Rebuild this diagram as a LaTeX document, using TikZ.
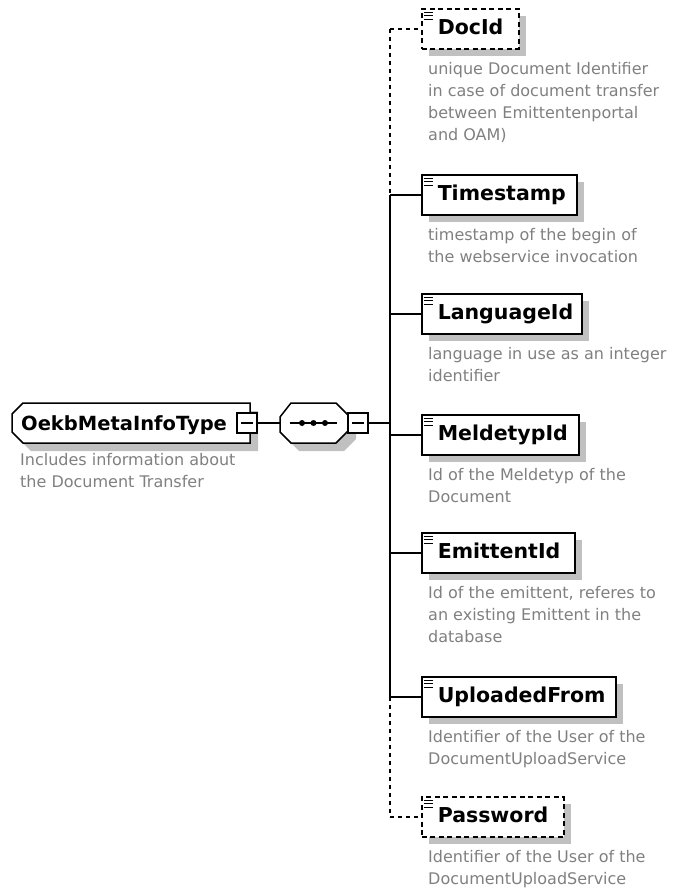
\documentclass[tikz,border=0pt]{standalone}
\usepackage{fontspec}
\setmainfont{DejaVu Sans}
\usetikzlibrary{shadows}
\definecolor{shadowc}{RGB}{192,192,192}
\definecolor{descc}{RGB}{128,128,128}
\newcommand\elemicon[1]{%
  \foreach \dy in {4,7.5,11} \draw[line width=1pt,solid] ([shift={(3,\dy)}]#1.north west) -- ++(9,0);}
\begin{document}
\begin{tikzpicture}[x=1pt,y=-1pt,
  elembox/.style={draw=black, fill=white, line width=1.5pt, inner sep=0pt,
    minimum height=40pt, anchor=west, text height=15pt, text depth=4.5pt,
    font=\fontsize{20.5}{22}\selectfont\bfseries,
    drop shadow={shadow xshift=7pt, shadow yshift=-7pt, fill=shadowc, opacity=1}},
  optbox/.style={elembox, dash pattern=on 5pt off 3.5pt},
  desc/.style={anchor=north west, align=left, inner sep=0pt, text=descc,
    font=\fontsize{16}{22}\selectfont, execute at begin node=\strut},
  conn/.style={draw=black, line width=1.6pt},
  optconn/.style={conn, dash pattern=on 4pt off 4pt},
  colbox/.style={draw=black, fill=white, line width=1.5pt, minimum size=20pt, inner sep=0pt,
    path picture={\draw[line width=1.3pt] ([xshift=4pt]path picture bounding box.west) -- ([xshift=-4pt]path picture bounding box.east);}},
]
\useasboundingbox (0,0) rectangle (673,896);

% ---- root element box ----
\fill[shadowc] (20,422) -- (31,411) -- (258,411) -- (258,451) -- (31,451) -- (20,440) -- cycle;
\draw[line width=1.5pt, fill=white] (12,414) -- (23,403) -- (250,403) -- (250,443) -- (23,443) -- (12,432) -- cycle;
\node[anchor=base west, inner sep=0pt, font=\fontsize{19.5}{22}\selectfont\bfseries] (oekb) at (21,430) {OekbMetaInfoType};
\node[colbox] (col1) at (247,423) {};
\node[desc] (droot) at (20,453) {Includes information about\\the Document Transfer};

% ---- sequence compositor ----
\fill[shadowc] (288,425) -- (299,411) -- (344,411) -- (356,423) -- (356,439) -- (344,451) -- (299,451) -- (288,440) -- cycle;
\draw[line width=1.5pt, fill=white] (280,417) -- (291,403) -- (336,403) -- (348,415) -- (348,431) -- (336,443) -- (291,443) -- (280,432) -- cycle;
\coordinate (seqw) at (280,423);
\coordinate (seqa) at (290,423);
\coordinate (seqb) at (337,423);
\draw[line width=1.5pt] (seqa) -- (seqb);
\foreach \xx in {302,313.5,325} \fill (\xx,423) circle (3pt);
\node[colbox] (col2) at (358,423) {};

% ---- spine coordinates ----
\coordinate (s0) at (390,423);
\coordinate (s1) at (390,29);
\coordinate (s2) at (390,195);
\coordinate (s3) at (390,314);
\coordinate (s4) at (390,435);
\coordinate (s5) at (390,553);
\coordinate (s6) at (390,697);
\coordinate (s7) at (390,817);

% ---- child elements ----
\node[optbox] (docid) at (421,29) {\makebox[97pt][l]{\hspace{16pt}DocId}};
\elemicon{docid}
\node[desc] (ddoc) at (428,62) {unique Document Identifier\\in case of document transfer\\between Emittentenportal\\and OAM)};

\node[elembox] (ts) at (421,195) {\makebox[155pt][l]{\hspace{16pt}Timestamp}};
\elemicon{ts}
\node[desc] (dts) at (428,228) {timestamp of the begin of\\the webservice invocation};

\node[elembox] (lang) at (421,314) {\makebox[160pt][l]{\hspace{16pt}LanguageId}};
\elemicon{lang}
\node[desc] (dlang) at (428,347) {language in use as an integer\\identifier};

\node[elembox] (mel) at (421,435) {\makebox[157pt][l]{\hspace{16pt}MeldetypId}};
\elemicon{mel}
\node[desc] (dmel) at (428,468) {Id of the Meldetyp of the\\Document};

\node[elembox] (emit) at (421,553) {\makebox[153pt][l]{\hspace{16pt}EmittentId}};
\elemicon{emit}
\node[desc] (demit) at (428,586) {Id of the emittent, referes to\\an existing Emittent in the\\database};

\node[elembox] (up) at (421,697) {\makebox[194pt][l]{\hspace{16pt}UploadedFrom}};
\elemicon{up}
\node[desc] (dup) at (428,730) {Identifier of the User of the\\DocumentUploadService};

\node[optbox] (pw) at (421,817) {\makebox[142pt][l]{\hspace{16pt}Password}};
\elemicon{pw}
\node[desc] (dpw) at (428,850) {Identifier of the User of the\\DocumentUploadService};

% ---- connectors ----
\draw[conn] (col1.east) -- (seqw);
\draw[conn] (col2.east) -- (s0);
\draw[optconn] (s1) -- (s2);
\draw[conn] (s2) -- (s6);
\draw[optconn] (s6) -- (s7);
\draw[optconn] (s1) -- (docid.west);
\draw[conn] (s2) -- (ts.west);
\draw[conn] (s3) -- (lang.west);
\draw[conn] (s4) -- (mel.west);
\draw[conn] (s5) -- (emit.west);
\draw[conn] (s6) -- (up.west);
\draw[optconn] (s7) -- (pw.west);
\end{tikzpicture}
\end{document}
